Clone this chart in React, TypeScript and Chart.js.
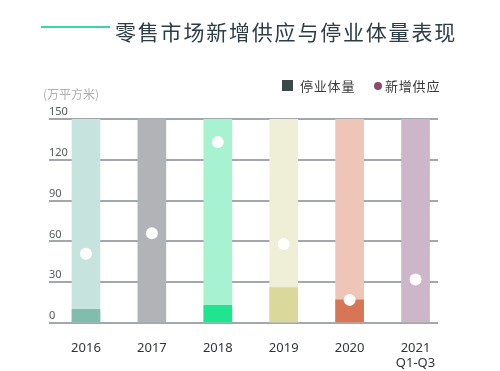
import React, { useEffect, useRef } from "react";
import { Chart, registerables } from "chart.js";

Chart.register(...registerables);

const categories: string[][] = [["2016"], ["2017"], ["2018"], ["2019"], ["2020"], ["2021", "Q1-Q3"]];
const closureValues: (number | null)[] = [10, null, 13, 26, 17, null];
const newSupplyValues: number[] = [51, 66, 133, 58, 17, 32];
const yTicks: number[] = [0, 30, 60, 90, 120, 150];
const yMax = 150;

const trackColors = ["#c6e3dd", "#b1b3b6", "#a6f2d1", "#efeed6", "#eec5b7", "#cdb6c9"];
const closureColors = ["#82bcad", "#b1b3b6", "#1fe591", "#dad89b", "#d77657", "#cdb6c9"];

const FONT = "'Noto Sans', 'Noto Sans CJK SC', sans-serif";
const CJK = "'Noto Sans CJK SC', 'Noto Sans', sans-serif";

export default function App() {
  const ref = useRef<HTMLCanvasElement | null>(null);

  useEffect(() => {
    if (!ref.current) return;
    const chart = new Chart(ref.current, {
      type: "bar",
      data: {
        datasets: [
          {
            type: "line",
            label: "新增供应",
            data: newSupplyValues.map((v, i) => ({ x: i, y: v })),
            showLine: false,
            pointRadius: 6,
            pointBackgroundColor: "#ffffff",
            pointBorderWidth: 0,
            order: 1,
          } as any,
          {
            label: "停业体量",
            data: closureValues.map((v, i) => ({ x: i, y: v })),
            backgroundColor: closureColors,
            barThickness: 28,
            grouped: false,
            order: 2,
          } as any,
          {
            label: "track",
            data: categories.map((_, i) => ({ x: i, y: yMax })),
            backgroundColor: trackColors,
            barThickness: 28,
            grouped: false,
            order: 3,
          } as any,
        ],
      },
      options: {
        animation: false,
        responsive: false,
        layout: { padding: { left: 49, right: 62, top: 119, bottom: 0 } },
        plugins: { legend: { display: false }, tooltip: { enabled: false } },
        scales: {
          x: {
            type: "linear",
            offset: false,
            min: -0.561,
            max: 5.341,
            grid: { display: false },
            border: { display: false },
            afterBuildTicks: (s: any) => {
              s.ticks = categories.map((_, i) => ({ value: i }));
            },
            afterFit: (s: any) => {
              s.height = 48;
            },
            ticks: {
              autoSkip: false,
              maxRotation: 0,
              padding: 9,
              color: "#30353a",
              font: { family: FONT, size: 13 },
              callback: (v: any) => categories[v as number] ?? "",
            },
          },
          y: {
            min: 0,
            max: yMax,
            afterBuildTicks: (s: any) => {
              s.ticks = yTicks.map((v) => ({ value: v }));
            },
            afterFit: (s: any) => {
              s.width = 0;
            },
            grid: { color: "#a3a8ac", lineWidth: 2, drawTicks: false },
            border: { display: false },
            ticks: {
              mirror: true,
              padding: 0,
              labelOffset: -7,
              color: "#555a5e",
              font: { family: FONT, size: 11 },
            },
          },
        },
      },
    });
    return () => chart.destroy();
  }, []);

  return (
    <div style={{ position: "fixed", left: 0, top: 0, width: 500, height: 371, background: "#fff", overflow: "hidden" }}>
      <canvas ref={ref} width={500} height={371} style={{ position: "absolute", left: 0, top: 0 }} />
      <div style={{ position: "absolute", left: 41, top: 26, width: 69, height: 2, background: "#38d9a0" }} />
      <div
        style={{
          position: "absolute",
          left: 115,
          top: 17,
          fontFamily: CJK,
          fontSize: 21,
          lineHeight: "28px",
          letterSpacing: 1.8,
          color: "#2c3d48",
          whiteSpace: "nowrap",
        }}
      >
        零售市场新增供应与停业体量表现
      </div>
      <div style={{ position: "absolute", left: 282, top: 80, width: 11, height: 11, background: "#3c4a47" }} />
      <div
        style={{
          position: "absolute",
          left: 300,
          top: 76,
          fontFamily: CJK,
          fontSize: 13,
          lineHeight: "20px",
          letterSpacing: 0.8,
          color: "#3a3a3a",
          whiteSpace: "nowrap",
        }}
      >
        停业体量
      </div>
      <div style={{ position: "absolute", left: 374, top: 82, width: 8, height: 8, borderRadius: 4, background: "#8b4a68" }} />
      <div
        style={{
          position: "absolute",
          left: 385,
          top: 76,
          fontFamily: CJK,
          fontSize: 13,
          lineHeight: "20px",
          letterSpacing: 0.8,
          color: "#3a3a3a",
          whiteSpace: "nowrap",
        }}
      >
        新增供应
      </div>
      <div
        style={{
          position: "absolute",
          left: 43,
          top: 86,
          fontFamily: CJK,
          fontSize: 12,
          lineHeight: "16px",
          color: "#b0b0b0",
          whiteSpace: "nowrap",
        }}
      >
        (万平方米)
      </div>
    </div>
  );
}
